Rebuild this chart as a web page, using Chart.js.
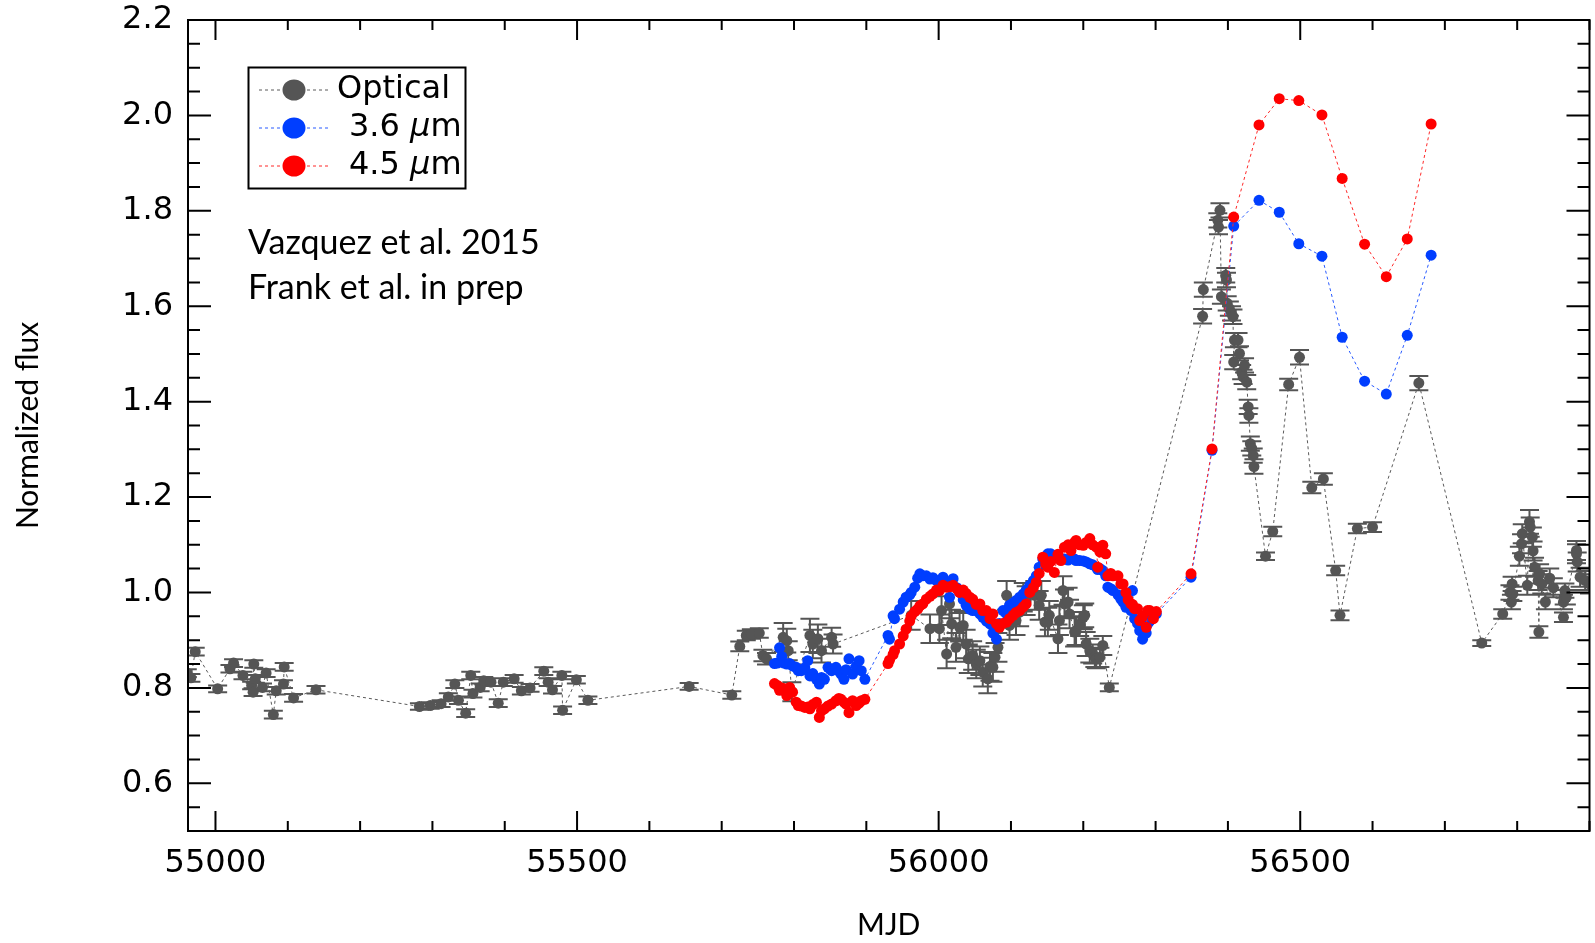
<!DOCTYPE html>
<html>
<head>
<meta charset="utf-8">
<script src="https://cdn.jsdelivr.net/npm/chart.js@4.4.1/dist/chart.umd.min.js"></script>
<style>
html, body { margin: 0; padding: 0; background: #fff; }
#wrap { width: 1595px; height: 943px; }
</style>
</head>
<body>
<div id="wrap"><canvas id="lcCanvas" width="1595" height="943"></canvas></div>
<script>
// ---- optical light curve (MJD, normalized flux, 1-sigma error) ----
const optMJD = [
  54961, 54966, 54972, 55003, 55020, 55025, 55038, 55050, 55052, 55053, 55055, 55065, 55070, 55080, 55084, 55094, 55095, 55108, 55139,
  55282, 55297, 55312, 55322, 55331, 55336, 55346, 55353, 55356, 55366, 55371, 55381, 55391, 55398, 55413, 55423, 55435, 55454, 55460,
  55466, 55479, 55480, 55499, 55515, 55655, 55714,
  55725, 55734, 55741, 55752, 55757, 55762, 55785, 55790, 55792, 55797, 55822, 55826, 55833, 55838, 55852, 55854,
  55962, 55988, 56001, 56004, 56011, 56015, 56018, 56024, 56029, 56034, 56038, 56041, 56047, 56052, 56057, 56061, 56068, 56071, 56075,
  56078, 56082, 56094, 56098, 56107, 56112, 56117, 56121, 56133, 56139, 56142, 56147, 56151, 56153, 56165, 56167, 56172, 56174, 56179,
  56181, 56188, 56190, 56195, 56200, 56202, 56204, 56209, 56213, 56216, 56218, 56223, 56227, 56236,
  56365, 56366, 56386, 56387, 56389, 56391, 56397, 56398, 56399, 56402, 56405, 56407, 56408, 56409, 56414, 56416, 56419, 56421, 56423,
  56426, 56428, 56429, 56431, 56433, 56435, 56436, 56452, 56462, 56484, 56499, 56516, 56532, 56549, 56555, 56579, 56600, 56664, 56751,
  56780, 56790, 56792, 56793, 56794, 56803, 56806, 56807, 56814, 56817, 56818, 56821, 56822, 56824, 56829, 56830, 56831, 56834, 56839,
  56845, 56850, 56864, 56864, 56865, 56866, 56868, 56882, 56882, 56883, 56887, 56894, 56900
];
const optFlux = [
  0.831, 0.821, 0.876, 0.798, 0.840, 0.852, 0.826, 0.805, 0.791, 0.850, 0.819, 0.801, 0.831, 0.744, 0.794, 0.808, 0.844, 0.779, 0.796,
  0.761, 0.763, 0.767, 0.781, 0.808, 0.774, 0.747, 0.826, 0.788, 0.801, 0.815, 0.812, 0.768, 0.812, 0.819, 0.794, 0.800, 0.835, 0.812,
  0.796, 0.826, 0.753, 0.817, 0.774, 0.803, 0.785,
  0.887, 0.910, 0.913, 0.915, 0.868, 0.861, 0.906, 0.899, 0.878, 0.792, 0.910, 0.892, 0.903, 0.878, 0.906, 0.892,
  0.952, 0.924, 0.924, 0.962, 0.871, 0.976, 0.934, 0.885, 0.927, 0.931, 0.892, 0.861, 0.868, 0.850, 0.857, 0.833, 0.819, 0.845, 0.843,
  0.864, 0.885, 0.994, 0.931, 0.941, 0.959, 0.990, 0.983, 0.994, 0.973, 0.994, 0.938, 0.938, 0.952, 0.903, 0.941, 1.004, 0.976, 0.980,
  0.955, 0.917, 0.920, 0.934, 0.948, 0.952, 0.892, 0.878, 0.871, 0.864, 0.861, 0.864, 0.889, 0.801,
  1.579, 1.635, 1.780, 1.766, 1.801, 1.620, 1.665, 1.655, 1.606, 1.595, 1.585, 1.578, 1.483, 1.529, 1.529, 1.501, 1.462, 1.452, 1.476,
  1.441, 1.389, 1.371, 1.312, 1.302, 1.287, 1.264, 1.076, 1.128, 1.436, 1.493, 1.220, 1.238, 1.046, 0.952, 1.134, 1.137, 1.439, 0.894,
  0.955, 1.000, 0.980, 1.018, 0.997, 1.076, 1.102, 1.123, 1.015, 1.148, 1.137, 1.116, 1.087, 1.053, 1.025, 0.917, 1.039, 1.018, 0.980,
  1.030, 1.010, 0.948, 0.980, 0.990, 1.004, 0.990, 1.088, 1.081, 1.064, 1.032, 1.025, 1.018
];
const optErr = [
  0.008, 0.008, 0.008, 0.007, 0.008, 0.008, 0.008, 0.008, 0.008, 0.008, 0.008, 0.008, 0.008, 0.008, 0.008, 0.008, 0.008, 0.008, 0.008,
  0.007, 0.007, 0.007, 0.008, 0.008, 0.008, 0.008, 0.008, 0.008, 0.008, 0.008, 0.008, 0.008, 0.008, 0.008, 0.008, 0.008, 0.008, 0.008,
  0.008, 0.008, 0.008, 0.008, 0.008, 0.007, 0.008,
  0.010, 0.010, 0.010, 0.010, 0.012, 0.012, 0.030, 0.025, 0.020, 0.020, 0.035, 0.030, 0.030, 0.025, 0.020, 0.020,
  0.030, 0.030, 0.030, 0.030, 0.030, 0.030, 0.030, 0.030, 0.030, 0.030, 0.030, 0.030, 0.030, 0.030, 0.030, 0.030, 0.030, 0.030, 0.030,
  0.030, 0.030, 0.030, 0.030, 0.030, 0.030, 0.030, 0.030, 0.030, 0.030, 0.030, 0.030, 0.030, 0.030, 0.030, 0.030, 0.030, 0.030, 0.030,
  0.030, 0.030, 0.030, 0.025, 0.025, 0.025, 0.025, 0.025, 0.020, 0.020, 0.020, 0.020, 0.020, 0.008,
  0.015, 0.015, 0.015, 0.015, 0.015, 0.015, 0.015, 0.015, 0.015, 0.015, 0.015, 0.015, 0.015, 0.015, 0.015, 0.015, 0.015, 0.015, 0.015,
  0.015, 0.015, 0.015, 0.015, 0.015, 0.015, 0.015, 0.008, 0.010, 0.012, 0.015, 0.012, 0.012, 0.010, 0.010, 0.010, 0.010, 0.015, 0.006,
  0.010, 0.015, 0.015, 0.015, 0.015, 0.020, 0.020, 0.020, 0.020, 0.025, 0.020, 0.020, 0.020, 0.020, 0.020, 0.012, 0.020, 0.020, 0.015,
  0.020, 0.020, 0.010, 0.015, 0.015, 0.015, 0.015, 0.020, 0.020, 0.020, 0.020, 0.020, 0.020
];

// ---- Spitzer IRAC (same epochs for both channels) ----
const irMJD = [
  55773, 55777, 55780, 55783, 55786, 55790, 55794, 55798, 55803, 55806, 55810, 55815, 55819, 55822, 55826, 55831, 55835, 55838, 55842,
  55847, 55852, 55858, 55862, 55865, 55869, 55872, 55876, 55881, 55886, 55890, 55893, 55898,
  55930, 55932, 55937, 55939, 55946, 55951, 55955, 55960, 55962, 55967, 55971, 55974, 55978, 55983, 55988, 55992, 55997, 56001, 56006,
  56011, 56015, 56020, 56025, 56029, 56034, 56038, 56043, 56047, 56052, 56057, 56061, 56066, 56071, 56075, 56080, 56084, 56089, 56094,
  56098, 56103, 56107, 56112, 56117, 56121, 56126, 56131, 56135, 56139, 56144, 56148, 56151, 56155, 56160, 56165, 56169, 56174, 56179,
  56183, 56188, 56190, 56195, 56200, 56204, 56209, 56213, 56218, 56220, 56223, 56227, 56231, 56234, 56238, 56241, 56248, 56252, 56255,
  56259, 56262, 56266, 56268, 56271, 56275, 56278, 56282, 56287, 56289, 56292, 56297, 56301,
  56349, 56378, 56408, 56443, 56471, 56498, 56530, 56558, 56589, 56619, 56648, 56681
];
const flux36 = [
  0.851, 0.852, 0.884, 0.866, 0.852, 0.850, 0.851, 0.846, 0.843, 0.836, 0.836, 0.842, 0.857, 0.825, 0.830, 0.818, 0.808, 0.822, 0.818,
  0.843, 0.836, 0.843, 0.835, 0.829, 0.818, 0.838, 0.861, 0.829, 0.845, 0.857, 0.836, 0.818,
  0.910, 0.902, 0.951, 0.945, 0.965, 0.980, 0.990, 0.995, 1.000, 1.011, 1.030, 1.039, 1.035, 1.035, 1.028, 1.031, 1.025, 1.020, 1.032,
  1.020, 0.990, 1.029, 1.010, 1.000, 0.985, 0.973, 0.965, 0.962, 0.962, 0.955, 0.948, 0.940, 0.934, 0.915, 0.902, 0.935, 0.962, 0.955,
  0.973, 0.978, 0.983, 0.990, 0.997, 1.005, 1.015, 1.025, 1.035, 1.053, 1.070, 1.062, 1.081, 1.081, 1.075, 1.072, 1.070, 1.070, 1.068,
  1.072, 1.070, 1.067, 1.067, 1.066, 1.064, 1.060, 1.058, 1.053, 1.048, 1.050, 1.046, 1.035, 1.011, 1.008, 1.004, 0.995, 0.986, 0.980,
  0.969, 0.975, 0.962, 1.004, 0.945, 0.935, 0.920, 0.902, 0.915, 0.934, 0.940, 0.950, 0.955,
  1.032, 1.298, 1.768, 1.822, 1.797, 1.731, 1.705, 1.535, 1.443, 1.416, 1.539, 1.707
];
const flux45 = [
  0.809, 0.805, 0.795, 0.800, 0.798, 0.784, 0.801, 0.791, 0.770, 0.763, 0.762, 0.759, 0.760, 0.756, 0.765, 0.770, 0.738, 0.752, 0.756,
  0.762, 0.766, 0.773, 0.778, 0.776, 0.770, 0.766, 0.748, 0.773, 0.763, 0.768, 0.773, 0.776,
  0.851, 0.858, 0.870, 0.878, 0.892, 0.909, 0.923, 0.940, 0.950, 0.960, 0.965, 0.972, 0.976, 0.986, 0.992, 0.997, 1.005, 1.004, 1.015,
  1.011, 1.012, 1.015, 1.008, 1.000, 1.005, 0.998, 0.990, 0.986, 0.975, 0.976, 0.962, 0.962, 0.945, 0.955, 0.934, 0.927, 0.935, 0.938,
  0.945, 0.952, 0.958, 0.962, 0.970, 0.976, 1.000, 1.010, 1.021, 1.040, 1.074, 1.060, 1.053, 1.065, 1.042, 1.080, 1.067, 1.095, 1.100,
  1.088, 1.105, 1.109, 1.100, 1.099, 1.105, 1.113, 1.100, 1.095, 1.053, 1.085, 1.099, 1.081, 1.035, 1.040, 1.035, 1.035, 1.018, 1.018,
  1.000, 0.985, 0.976, 0.975, 0.966, 0.966, 0.941, 0.950, 0.927, 0.962, 0.962, 0.945, 0.960,
  1.039, 1.301, 1.787, 1.980, 2.035, 2.031, 2.001, 1.868, 1.730, 1.662, 1.741, 1.982
];

const xTickVals = [55000, 55500, 56000, 56500];
const yTickVals = [0.6, 0.8, 1.0, 1.2, 1.4, 1.6, 1.8, 2.0, 2.2];
const refLines = ['Vazquez et al. 2015', 'Frank et al. in prep'];

const GREY = 'rgb(85,85,85)';
const BLUE = 'rgb(0,62,255)';
const RED = 'rgb(255,0,0)';

const optPts = optMJD.map((m, i) => ({x: m, y: optFlux[i], e: optErr[i]})).sort((a, b) => a.x - b.x);
const ch1Pts = irMJD.map((m, i) => ({x: m, y: flux36[i]}));
const ch2Pts = irMJD.map((m, i) => ({x: m, y: flux45[i]}));

// error bars under the optical points
const errorBars = {
  id: 'errorBars',
  beforeDatasetsDraw(chart) {
    const {ctx, chartArea: a, scales: {x, y}} = chart;
    ctx.save();
    ctx.beginPath();
    ctx.rect(a.left, a.top, a.right - a.left, a.bottom - a.top);
    ctx.clip();
    ctx.strokeStyle = GREY;
    ctx.lineWidth = 2;
    ctx.beginPath();
    optPts.forEach(p => {
      const px = x.getPixelForValue(p.x);
      const y1 = y.getPixelForValue(p.y - p.e);
      const y2 = y.getPixelForValue(p.y + p.e);
      ctx.moveTo(px, y1); ctx.lineTo(px, y2);
      ctx.moveTo(px - 9.5, y1); ctx.lineTo(px + 9.5, y1);
      ctx.moveTo(px - 9.5, y2); ctx.lineTo(px + 9.5, y2);
    });
    ctx.stroke();
    ctx.restore();
  }
};

// box, inward ticks on all four sides, legend and reference text
const frameDecor = {
  id: 'frameDecor',
  afterDraw(chart) {
    const {ctx, chartArea: a, scales: {x, y}} = chart;
    ctx.save();
    ctx.strokeStyle = '#000';
    ctx.lineWidth = 2;
    ctx.strokeRect(a.left, a.top, a.right - a.left, a.bottom - a.top);

    ctx.beginPath();
    for (let v = 55000; v <= x.max; v += 100) {
      const px = x.getPixelForValue(v);
      const len = v % 500 === 0 ? 20 : 10;
      ctx.moveTo(px, a.bottom); ctx.lineTo(px, a.bottom - len);
      ctx.moveTo(px, a.top); ctx.lineTo(px, a.top + len);
    }
    for (let k = 10; k <= 44; k++) {
      const py = y.getPixelForValue(k * 0.05);
      const len = k % 4 === 0 ? 23 : 12;
      ctx.moveTo(a.left, py); ctx.lineTo(a.left + len, py);
      ctx.moveTo(a.right, py); ctx.lineTo(a.right - len, py);
    }
    ctx.stroke();

    // legend
    ctx.strokeRect(248.5, 67.5, 217, 121);
    chart.data.datasets.forEach((ds, i) => {
      const ry = 90 + i * 38;
      ctx.save();
      ctx.strokeStyle = ds.borderColor;
      ctx.lineWidth = 1;
      ctx.setLineDash([3, 3]);
      ctx.beginPath();
      ctx.moveTo(259, ry); ctx.lineTo(328, ry);
      ctx.stroke();
      ctx.restore();
      ctx.fillStyle = ds.pointBackgroundColor;
      ctx.beginPath();
      ctx.ellipse(294, ry, 11.5, 10.5, 0, 0, Math.PI * 2);
      ctx.fill();
      ctx.fillStyle = '#000';
      ctx.textBaseline = 'middle';
      const parts = ds.label.split('μ');
      let tx = i === 0 ? 337 : 349;
      ctx.font = '32px "DejaVu Sans"';
      ctx.fillText(parts[0], tx, ry);
      if (parts.length > 1) {
        tx += ctx.measureText(parts[0]).width;
        ctx.font = 'italic 32px "DejaVu Sans"';
        ctx.fillText('μ', tx, ry);
        tx += ctx.measureText('μ').width;
        ctx.font = '32px "DejaVu Sans"';
        ctx.fillText(parts[1], tx, ry);
      }
    });

    ctx.font = '34px Lato';
    ctx.fillStyle = '#000';
    ctx.textBaseline = 'middle';
    refLines.forEach((t, i) => ctx.fillText(t, 248, 243 + i * 45));
    ctx.restore();
  }
};

new Chart(document.getElementById('lcCanvas'), {
  type: 'line',
  data: {
    datasets: [
      {
        label: 'Optical', data: optPts, order: 3,
        borderColor: 'rgb(90,90,90)', borderWidth: 1, borderDash: [3, 3],
        pointBackgroundColor: GREY, pointBorderWidth: 0, pointRadius: 5.5, tension: 0
      },
      {
        label: '3.6 μm', data: ch1Pts, order: 2,
        borderColor: 'rgb(40,90,255)', borderWidth: 1, borderDash: [3, 3],
        pointBackgroundColor: BLUE, pointBorderWidth: 0, pointRadius: 5.5, tension: 0
      },
      {
        label: '4.5 μm', data: ch2Pts, order: 1,
        borderColor: 'rgb(255,40,40)', borderWidth: 1, borderDash: [3, 3],
        pointBackgroundColor: RED, pointBorderWidth: 0, pointRadius: 5.5, tension: 0
      }
    ]
  },
  options: {
    responsive: false,
    animation: false,
    layout: { padding: { left: 0, right: 3, top: 20, bottom: 0 } },
    plugins: { legend: { display: false }, tooltip: { enabled: false } },
    scales: {
      x: {
        type: 'linear', min: 54962, max: 56900,
        afterBuildTicks: s => { s.ticks = xTickVals.map(v => ({ value: v })); },
        afterFit: s => { s.height = 112; s.paddingLeft = 0; s.paddingRight = 0; },
        grid: { display: false, drawTicks: false },
        border: { display: false },
        ticks: {
          color: '#000', font: { family: 'DejaVu Sans', size: 32 }, padding: 13,
          maxRotation: 0, autoSkip: false, callback: v => String(v)
        },
        title: {
          display: true, text: 'MJD', color: '#000',
          font: { family: 'Lato', size: 30 }, padding: { top: 0, bottom: 0 }
        }
      },
      y: {
        type: 'linear', min: 0.5, max: 2.2,
        afterBuildTicks: s => { s.ticks = yTickVals.map(v => ({ value: v })); },
        afterFit: s => { s.width = 188; s.paddingTop = 0; s.paddingBottom = 0; },
        grid: { display: false, drawTicks: false },
        border: { display: false },
        ticks: {
          color: '#000', font: { family: 'DejaVu Sans', size: 32 }, padding: 15,
          callback: v => v.toFixed(1)
        },
        title: {
          display: true, text: 'Normalized flux', color: '#000',
          font: { family: 'Lato', size: 30 }, padding: { top: 10, bottom: 0 }
        }
      }
    }
  },
  plugins: [errorBars, frameDecor]
});
</script>
</body>
</html>
